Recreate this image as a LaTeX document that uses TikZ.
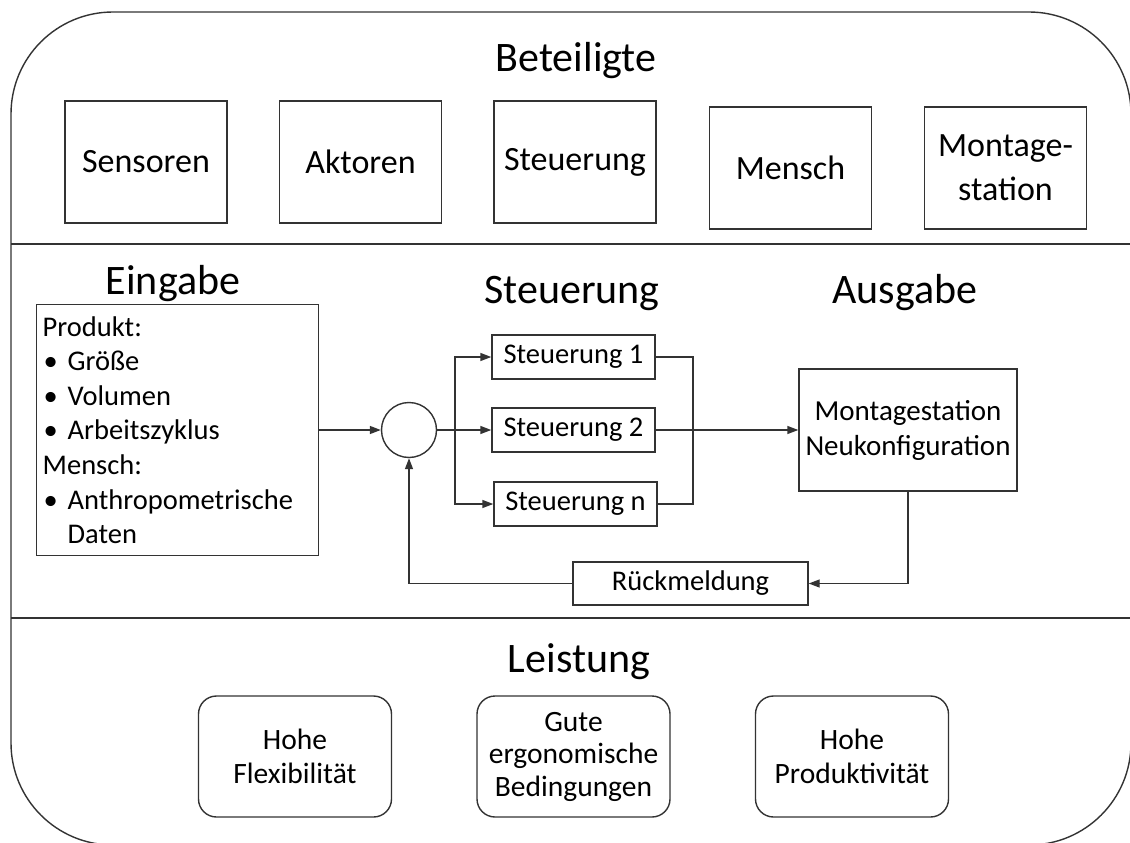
\documentclass[tikz,border=0pt]{standalone}
\usepackage{fontspec}
\setmainfont{Carlito}
\usetikzlibrary{arrows.meta}

\newcommand{\itembul}{\makebox[25pt][l]{\hspace{1pt}\textbullet}}

\tikzset{
  line/.style={draw=black!80, line width=1.4pt},
  title/.style={anchor=base, inner sep=0pt, font=\fontsize{42}{50}\selectfont},
  partbox/.style={line, rectangle, minimum width=162pt, minimum height=122pt,
    inner sep=0pt, align=center, font=\fontsize{34}{42}\selectfont},
  ctrlbox/.style={line, rectangle, minimum width=163pt, minimum height=44pt,
    inner sep=0pt, font=\fontsize{28.5}{34}\selectfont},
  perfbox/.style={line, rectangle, rounded corners=18pt, minimum width=193pt,
    minimum height=121pt, inner sep=0pt, align=center,
    font=\fontsize{29.5}{34.5}\selectfont},
  flow/.style={line, -{Triangle[length=11pt,width=8pt]}},
  plain/.style={line},
}

\begin{document}
\begin{tikzpicture}[x=1pt, y=-1pt]
\useasboundingbox (0,0) rectangle (1130,843);

% outer frame and the three bands
\draw[line] (11,12) [rounded corners=102pt] rectangle (1131,845);
\draw[line] (11,244) -- (1131,244);
\draw[line] (11,618) -- (1131,618);

% band 1: participants
\node[title] (tBet) at (576,72) {Beteiligte};
\node[partbox] (pSens) at (146,162) {Sensoren};
\node[partbox] (pAkt)  at (360.5,162) {Aktoren};
\node[partbox] (pSteu) at (575,162) {Steuerung};
\node[partbox] (pMen)  at (790.5,168) {Mensch};
\node[partbox] (pMont) at (1005.5,168) {Montage-\\[2pt]station};

% band 2: control loop
\node[title] (tEin) at (173,294) {Eingabe};
\node[title] (tSteu) at (572,303) {Steuerung};
\node[title] (tAus) at (905,303) {Ausgabe};

\node[line, rectangle, anchor=north west, minimum width=278pt,
      minimum height=251pt, text width=270pt, inner xsep=6pt, inner ysep=0pt,
      align=left, font=\fontsize{28.5}{34.6}\selectfont] (ein) at (36,304)
  {Produkt:\\
   \itembul Größe\\
   \itembul Volumen\\
   \itembul Arbeitszyklus\\
   Mensch:\\
   \itembul Anthropometrische\\
   \hspace*{25pt}Daten};

\node[line, circle, minimum size=55pt, inner sep=0pt] (sum) at (409,430) {};

\node[ctrlbox] (s1) at (573.5,357) {Steuerung 1};
\node[ctrlbox] (s2) at (573.5,430) {Steuerung 2};
\node[ctrlbox] (sn) at (575.5,504) {Steuerung n};

\node[line, rectangle, minimum width=218pt, minimum height=122pt, inner sep=0pt,
      align=center, font=\fontsize{29}{35}\selectfont] (mont) at (908,430)
  {Montagestation\\Neukonfiguration};

\node[line, rectangle, minimum width=235pt, minimum height=43pt, inner sep=0pt,
      font=\fontsize{28.5}{34}\selectfont] (rueck) at (690.5,583.5) {Rückmeldung};

\coordinate (split) at (455,430);
\coordinate (merge) at (693,430);

\draw[flow] (ein.east |- sum.west) -- (sum.west);
\draw[plain] (sum.east) -- (split);
\draw[flow] (split) -- (s2.west);
\draw[flow] (split) |- (s1.west);
\draw[flow] (split) |- (sn.west);
\draw[plain] (s1.east) -| (merge) |- (sn.east);
\draw[flow] (s2.east) -- (mont.west);
\draw[flow] (mont.south) |- (rueck.east);
\draw[flow] (rueck.west) -| (sum.south);

% band 3: performance
\node[title] (tLei) at (579,672) {Leistung};
\node[perfbox] (fFlex) at (295,756.5) {Hohe\\Flexibilität};
\node[perfbox] (fErgo) at (573.5,756.5) {Gute\\[-2pt]ergonomische\\[-2pt]Bedingungen};
\node[perfbox] (fProd) at (852,756.5) {Hohe\\Produktivität};
\end{tikzpicture}
\end{document}
